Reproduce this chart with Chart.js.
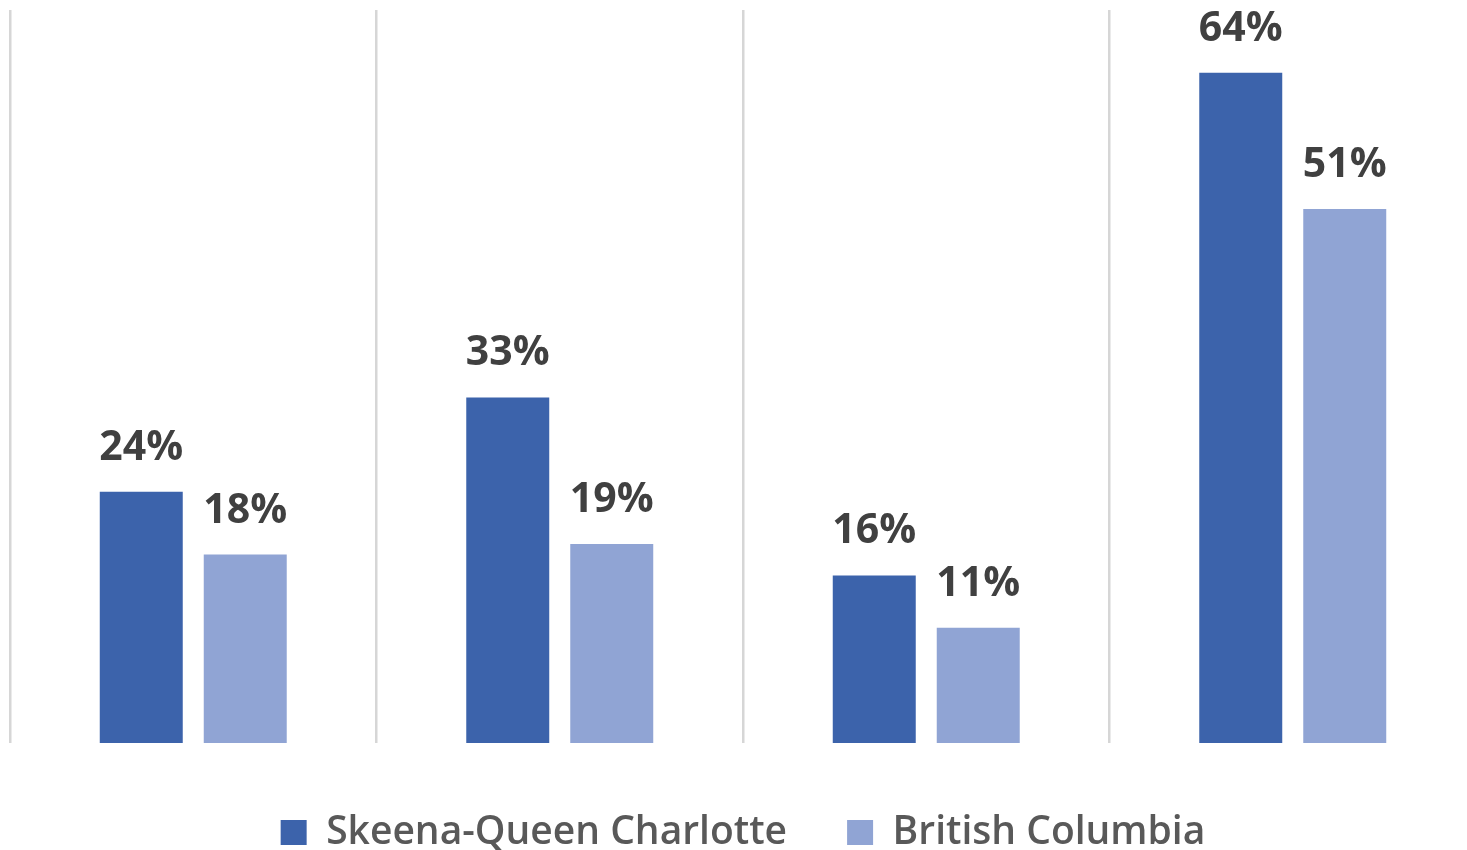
<!DOCTYPE html>
<html>
<head>
<meta charset="utf-8">
<script src="https://cdn.jsdelivr.net/npm/chart.js@4.4.1/dist/chart.umd.min.js"></script>
<style>
  html, body { margin: 0; padding: 0; background: #fff; overflow: hidden; }
  canvas { display: block; }
</style>
</head>
<body>
<canvas id="chart" width="1480" height="862"></canvas>
<script>
// data
const categories = ['1', '2', '3', '4'];
const skeenaValues = [24, 33, 16, 64];
const bcValues = [18, 19, 11, 51];
const seriesNames = ['Skeena-Queen Charlotte', 'British Columbia'];

const FONT = '"Open Sans", "Noto Sans", sans-serif';

// draws the percent labels above each bar
const valueLabels = {
  id: 'valueLabels',
  afterDatasetsDraw(chart) {
    const ctx = chart.ctx;
    ctx.save();
    ctx.font = 'bold 41px ' + FONT;
    ctx.fillStyle = '#404040';
    ctx.textAlign = 'center';
    ctx.textBaseline = 'alphabetic';
    chart.data.datasets.forEach((ds, i) => {
      chart.getDatasetMeta(i).data.forEach((bar, j) => {
        ctx.fillText(ds.data[j] + '%', bar.x, bar.y - 32);
      });
    });
    ctx.restore();
  }
};

new Chart(document.getElementById('chart'), {
  type: 'bar',
  data: {
    labels: categories,
    datasets: [
      {
        label: seriesNames[0],
        data: skeenaValues,
        backgroundColor: '#3c63ab',
        categoryPercentage: 0.5675,
        barPercentage: 0.798
      },
      {
        label: seriesNames[1],
        data: bcValues,
        backgroundColor: '#90a4d4',
        categoryPercentage: 0.5675,
        barPercentage: 0.798
      }
    ]
  },
  options: {
    responsive: false,
    animation: false,
    layout: { padding: { left: 10, right: 4, top: 10, bottom: 0 } },
    plugins: {
      tooltip: { enabled: false },
      legend: {
        position: 'bottom',
        labels: {
          boxWidth: 26,
          boxHeight: 25,
          padding: 60,
          color: '#595959',
          font: { family: FONT, size: 39, weight: '600' }
        }
      }
    },
    scales: {
      x: {
        grid: { offset: true, color: '#d6d6d6', lineWidth: 2.5, drawTicks: false },
        border: { display: false },
        ticks: { display: false },
        afterFit(scale) { scale.height = 10; }
      },
      y: {
        display: false,
        min: 0,
        max: 70
      }
    }
  },
  plugins: [valueLabels]
});
</script>
</body>
</html>
